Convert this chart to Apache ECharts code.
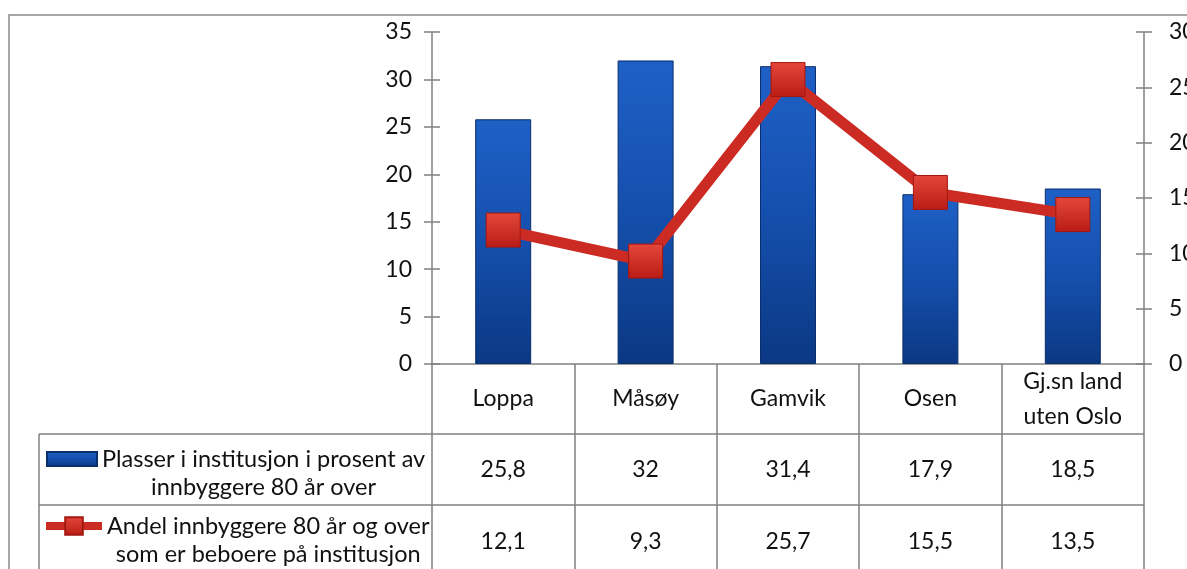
<!DOCTYPE html>
<html>
<head>
<meta charset="utf-8">
<script src="https://cdn.jsdelivr.net/npm/echarts@6/dist/echarts.min.js"></script>
<style>
  html, body { margin: 0; padding: 0; background: #fff; }
  #chart { width: 1187px; height: 569px; }
</style>
</head>
<body>
<div id="chart"></div>
<script>
const categories = ['Loppa', 'Måsøy', 'Gamvik', 'Osen', 'Gj.sn land\nuten Oslo']
const placesPct = [25.8, 32, 31.4, 17.9, 18.5]
const residentsPct = [12.1, 9.3, 25.7, 15.5, 13.5]
const placesName = 'Plasser i institusjon i prosent av\ninnbyggere 80 år over'
const residentsName = 'Andel innbyggere 80 år og over\nsom er beboere på institusjon'

const font = 'Lato, "Open Sans", sans-serif'
const gridColor = '#808080'
const fmt = v => String(v).replace('.', ',')

const chart = echarts.init(document.getElementById('chart'), null, { renderer: 'canvas' })

const legendText = {
  fontFamily: font,
  fontSize: 23.5,
  color: '#111',
  padding: [28, 0, 0, 0],
  rich: {
    t: { fontFamily: font, fontSize: 23.5, color: '#111', lineHeight: 28, align: 'center' }
  }
}
const legendFormatter = name => name.split('\n').map(s => `{t|${s}}`).join('\n')

const valueAxis = (pos, max, inside) => ({
  type: 'value',
  position: pos,
  min: 0,
  max: max,
  interval: 5,
  splitLine: { show: false },
  axisLine: { show: !inside, lineStyle: { color: gridColor, width: 1.5 } },
  axisTick: { show: true, inside: inside, length: 8, lineStyle: { color: gridColor, width: 1.5 } },
  axisLabel: {
    show: !inside,
    margin: pos === 'left' ? 20 : 25,
    fontFamily: font,
    fontSize: 23,
    color: '#111'
  }
})

chart.setOption({
  animation: false,
  backgroundColor: '#fff',
  grid: { left: 432, right: 43, top: 32, bottom: 205, outerBoundsMode: 'none', containLabel: false },
  legend: [
    {
      data: [{ name: placesName, icon: 'rect' }],
      left: 46, top: 447, padding: 0,
      itemWidth: 50, itemHeight: 14,
      textStyle: legendText,
      formatter: legendFormatter
    },
    {
      data: [residentsName],
      left: 42, top: 514, padding: 0,
      itemWidth: 56, itemHeight: 22,
      lineStyle: { width: 8 },
      textStyle: legendText,
      formatter: legendFormatter
    }
  ],
  xAxis: {
    type: 'category',
    data: categories,
    axisLine: { lineStyle: { color: gridColor, width: 1.5 } },
    axisTick: { show: true, interval: 0, length: 215, lineStyle: { color: gridColor, width: 1.5 } },
    axisLabel: {
      interval: 0,
      margin: 0,
      color: '#111',
      fontFamily: font,
      fontSize: 23,
      formatter: (name, i) => {
        const style = name.includes('\n') ? 'h2' : 'h'
        const head = name.split('\n').map(s => `{${style}|${s}}`).join('\n')
        return head + `\n{r1|${fmt(placesPct[i])}}\n{r2|${fmt(residentsPct[i])}}`
      },
      rich: {
        h: { fontFamily: font, fontSize: 23, color: '#111', lineHeight: 70 },
        h2: { fontFamily: font, fontSize: 23, color: '#111', lineHeight: 35 },
        r1: { fontFamily: font, fontSize: 23, color: '#111', lineHeight: 71 },
        r2: { fontFamily: font, fontSize: 23, color: '#111', lineHeight: 74 }
      }
    }
  },
  yAxis: [
    valueAxis('left', 35, false),
    valueAxis('right', 30, false),
    valueAxis('left', 35, true),
    valueAxis('right', 30, true)
  ],
  graphic: [
    { type: 'rect', shape: { x: 9, y: 15, width: 1400, height: 800 }, style: { fill: 'none', stroke: '#8a8a8a', lineWidth: 1.5 }, silent: true },
    { type: 'line', shape: { x1: 39, y1: 434, x2: 1144, y2: 434 }, style: { stroke: gridColor, lineWidth: 1.5 }, silent: true },
    { type: 'line', shape: { x1: 39, y1: 505, x2: 1144, y2: 505 }, style: { stroke: gridColor, lineWidth: 1.5 }, silent: true },
    { type: 'line', shape: { x1: 39, y1: 434, x2: 39, y2: 600 }, style: { stroke: gridColor, lineWidth: 1.5 }, silent: true }
  ],
  series: [
    {
      name: placesName,
      type: 'bar',
      yAxisIndex: 0,
      barWidth: 56,
      data: placesPct,
      itemStyle: {
        color: new echarts.graphic.LinearGradient(0, 0, 0, 1, [
          { offset: 0, color: '#1f60c6' },
          { offset: 0.5, color: '#154fad' },
          { offset: 1, color: '#0b3883' }
        ]),
        borderColor: '#0b2f6c',
        borderWidth: 1
      }
    },
    {
      name: residentsName,
      type: 'line',
      yAxisIndex: 1,
      data: residentsPct,
      symbol: 'rect',
      symbolSize: 34,
      lineStyle: { color: '#cc2b23', width: 11 },
      itemStyle: {
        color: new echarts.graphic.LinearGradient(0, 0, 0, 1, [
          { offset: 0, color: '#e4473a' },
          { offset: 1, color: '#b91c15' }
        ]),
        borderColor: '#a31710',
        borderWidth: 1
      },
      z: 5
    }
  ]
})
</script>
</body>
</html>
